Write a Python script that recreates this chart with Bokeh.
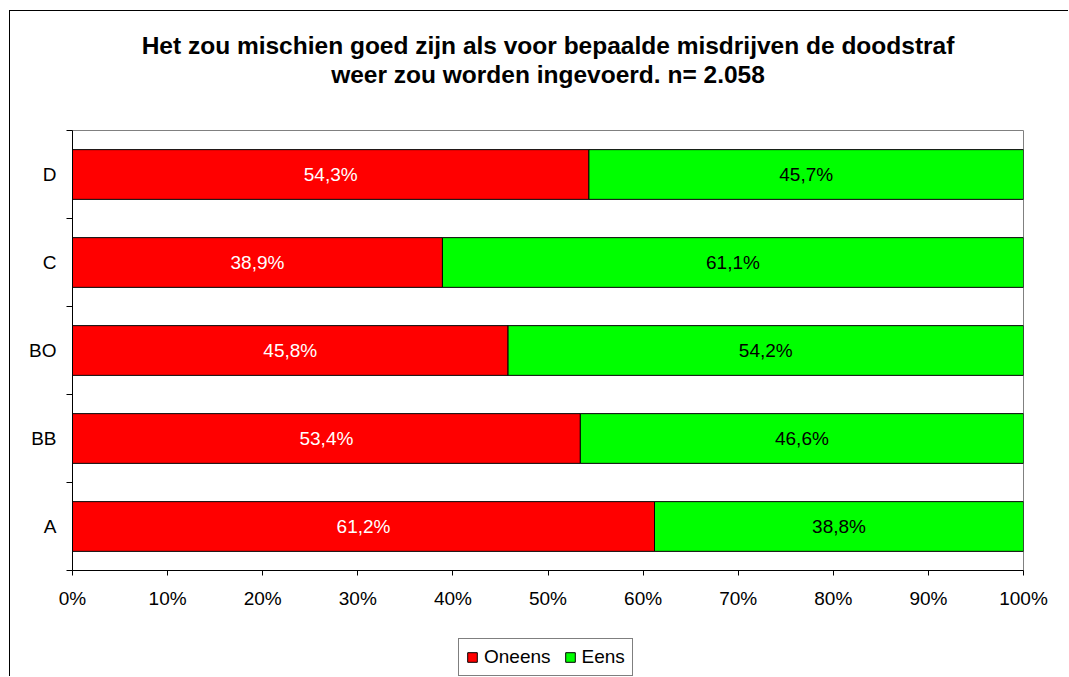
from bokeh.plotting import figure
from bokeh.layouts import column
from bokeh.models import (Range1d, FixedTicker, PrintfTickFormatter, Legend,
                          LegendItem, Title, ColumnDataSource)
from bokeh.core.properties import value
from bokeh.embed import file_html
from bokeh.resources import INLINE

# ---- data (bottom to top) ----
categories = ["A", "BB", "BO", "C", "D"]
oneens = [61.2, 53.4, 45.8, 38.9, 54.3]
eens = [38.8, 46.6, 54.2, 61.1, 45.7]
x_ticks = [0, 10, 20, 30, 40, 50, 60, 70, 80, 90, 100]
title_line1 = "Het zou mischien goed zijn als voor bepaalde misdrijven de doodstraf"
title_line2 = "weer zou worden ingevoerd. n= 2.058"
series_names = ["Oneens", "Eens"]

FONT = "Liberation Sans"
FS = "19px"
RED = "#FF0000"
GREEN = "#00FF00"
W = 1058
ML, MR = 62, 45


def blank_strip(height, top=0):
    f = figure(width=W, height=height, output_backend="svg", toolbar_location=None,
               x_range=Range1d(0, 1), y_range=Range1d(0, 1),
               x_axis_location=None, y_axis_location=None,
               min_border_left=ML, min_border_right=MR,
               min_border_top=top, min_border_bottom=0)
    f.outline_line_color = None
    f.background_fill_color = "white"
    f.border_fill_color = "white"
    f.xgrid.visible = False
    f.ygrid.visible = False
    return f


# ---- title strip ----
tf = blank_strip(117, top=76)
tf.add_layout(Title(text=title_line2, align="center", text_font=FONT,
                    text_font_size="24.5px", text_font_style="bold",
                    text_color="black", standoff=0), "above")
tf.add_layout(Title(text=title_line1, align="center", text_font=FONT,
                    text_font_size="24.5px", text_font_style="bold",
                    text_color="black", standoff=0), "above")

# ---- main chart ----
ypos = [i + 0.5 for i in range(len(categories))]
fmt = lambda v: f"{v:.1f}%".replace(".", ",")

src = ColumnDataSource(dict(
    y=ypos,
    zero=[0] * len(oneens),
    oneens=oneens,
    total=[a + b for a, b in zip(oneens, eens)],
    mid_o=[a / 2 for a in oneens],
    mid_e=[a + b / 2 for a, b in zip(oneens, eens)],
    lab_o=[fmt(v) for v in oneens],
    lab_e=[fmt(v) for v in eens],
))

p = figure(width=W, height=510, output_backend="svg", toolbar_location=None,
           x_range=Range1d(0, 100), y_range=Range1d(0, len(categories)),
           min_border_left=ML, min_border_right=MR, min_border_top=2,
           min_border_bottom=68)
p.background_fill_color = "white"
p.border_fill_color = "white"
p.outline_line_color = "#808080"
p.outline_line_width = 1
p.xgrid.visible = False
p.ygrid.visible = False

p.hbar(y="y", left="zero", right="oneens", height=0.565, source=src,
       fill_color=RED, line_color="black", line_width=1)
p.hbar(y="y", left="oneens", right="total", height=0.565, source=src,
       fill_color=GREEN, line_color="black", line_width=1)

p.text(x="mid_o", y="y", text="lab_o", source=src, text_color="white",
       text_font=value(FONT), text_font_size=FS, text_align="center",
       text_baseline="middle")
p.text(x="mid_e", y="y", text="lab_e", source=src, text_color="black",
       text_font=value(FONT), text_font_size=FS, text_align="center",
       text_baseline="middle")

xa = p.xaxis[0]
xa.ticker = FixedTicker(ticks=x_ticks)
xa.formatter = PrintfTickFormatter(format="%d%%")
xa.major_tick_out = 5
xa.major_tick_in = 0
xa.minor_tick_out = 0
xa.minor_tick_in = 0
xa.axis_line_color = "black"
xa.major_tick_line_color = "black"
xa.major_label_text_font = FONT
xa.major_label_text_font_size = FS
xa.major_label_text_color = "black"
xa.major_label_standoff = 12

ya = p.yaxis[0]
ya.ticker = FixedTicker(ticks=ypos, minor_ticks=list(range(len(categories) + 1)))
ya.major_label_overrides = {y: c for y, c in zip(ypos, categories)}
ya.major_tick_out = 0
ya.major_tick_in = 0
ya.minor_tick_out = 6
ya.minor_tick_in = 0
ya.minor_tick_line_color = "black"
ya.axis_line_color = "black"
ya.major_label_text_font = FONT
ya.major_label_text_font_size = FS
ya.major_label_text_color = "black"
ya.major_label_standoff = 10

# ---- legend strip ----
lf = blank_strip(38)
swatch = ColumnDataSource(dict(y=[-5], l=[0], r=[0]))
lo = lf.hbar(y="y", left="l", right="r", height=0.5, source=swatch,
             fill_color=RED, line_color="black", line_width=1)
le = lf.hbar(y="y", left="l", right="r", height=0.5, source=swatch,
             fill_color=GREEN, line_color="black", line_width=1)
legend = Legend(items=[LegendItem(label=series_names[0], renderers=[lo]),
                       LegendItem(label=series_names[1], renderers=[le])],
                orientation="horizontal", location=(386, 0),
                label_text_font=FONT, label_text_font_size=FS,
                label_text_color="black", glyph_width=12, glyph_height=12,
                label_standoff=6, spacing=13, padding=7, margin=0,
                border_line_color="black", border_line_width=1,
                background_fill_color="white", background_fill_alpha=1)
lf.add_layout(legend, "center")

layout = column(tf, p, lf, spacing=0)
layout.styles = {"margin-left": "9px", "margin-top": "10px",
                 "border-left": "1px solid #000000", "border-top": "1px solid #000000"}

open("out.html", "w").write(file_html(layout, INLINE))
